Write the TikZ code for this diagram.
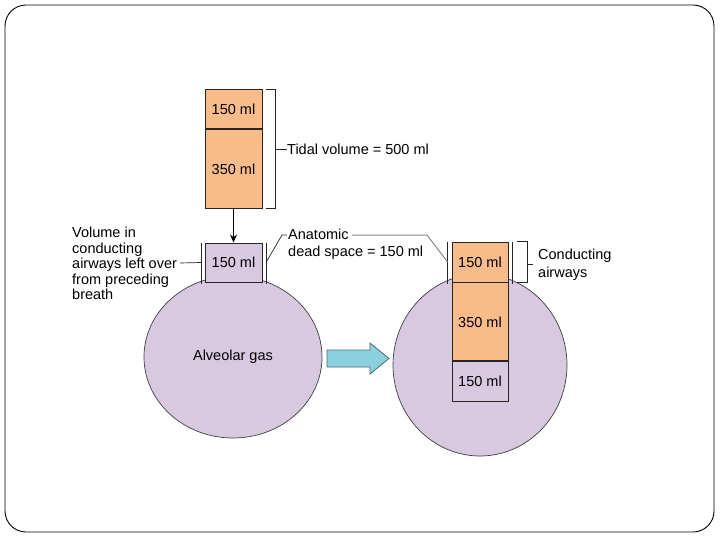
\documentclass[tikz,border=0pt]{standalone}
\usepackage{fontspec}
\setmainfont{Liberation Sans}
\usetikzlibrary{shapes.geometric, arrows.meta, positioning}
\definecolor{tvorange}{RGB}{248,188,138}
\definecolor{alvlilac}{RGB}{216,200,224}
\definecolor{flowblue}{RGB}{140,208,222}
\definecolor{flowedge}{RGB}{70,110,120}
\definecolor{leadgray}{RGB}{135,135,135}
\tikzset{
  %% ---- boxes ----
  volbox/.style  = {rectangle, draw=black!85, line width=0.9pt,
                    fill=#1, minimum width=57pt, inner sep=0pt,
                    font=\fontsize{14.5}{16}\selectfont},
  volbox/.default = tvorange,
  lung/.style    = {ellipse, draw=black!75, line width=0.7pt,
                    fill=alvlilac, inner sep=0pt,
                    font=\fontsize{14.5}{16}\selectfont},
  lbl/.style     = {align=left, inner sep=0pt,
                    font=\fontsize{14.5}{#1}\selectfont},
  lbl/.default   = 16.5,
  %% ---- lines ----
  leader/.style  = {line width=0.7pt, color=black!85},
  grayleader/.style = {line width=1pt, color=leadgray},
  wall/.style    = {line width=0.6pt, color=black!85},
  pointer/.style = {-{Stealth[length=8pt, width=7pt]}, line width=1.3pt},
  flow/.style    = {draw=flowedge, line width=0.8pt, fill=flowblue},
}
\begin{document}
\begin{tikzpicture}[x=1pt, y=-1pt]
  \useasboundingbox (0,0) rectangle (720,540);
  \draw[line width=0.9pt, rounded corners=21pt] (5,5) rectangle (714,532);

  %% alveoli
  \node[lung, minimum width=178pt, minimum height=162pt] (lung1) at (233,357) {Alveolar gas};
  \node[lung, minimum width=174pt, minimum height=182pt] (lung2) at (480,365) {};

  %% inspired tidal volume
  \node[volbox, minimum height=39pt] (tv150) at (233.5,109) {150 ml};
  \node[volbox, minimum height=79pt, below=0pt of tv150] (tv350) {350 ml};

  %% dead space before the breath
  \node[volbox=alvlilac, minimum height=39pt] (ds150) at (233.5,262.5) {150 ml};
  \draw[pointer] (tv350.south) -- (ds150.north);
  \draw[wall] ([xshift=-3.5pt]ds150.north west) -- ([xshift=-3.5pt, yshift=-2pt]ds150.south west);
  \draw[wall] ([xshift=3.5pt]ds150.north east) -- ([xshift=3.5pt, yshift=-2pt]ds150.south east);

  %% after the breath
  \node[volbox, minimum width=56pt, minimum height=40pt] (r150) at (480,262) {150 ml};
  \node[volbox, minimum width=56pt, minimum height=78pt, below=0pt of r150] (r350) {350 ml};
  \node[volbox=alvlilac, minimum width=56pt, minimum height=40pt, below=0pt of r350] (rb150) {150 ml};
  \draw[wall] ([xshift=-4pt]r150.north west) -- ([xshift=-4pt, yshift=-2pt]r150.south west);
  \draw[wall] ([xshift=4pt]r150.north east) -- ([xshift=4pt, yshift=-2pt]r150.south east);

  \draw[flow] (327,350) -- (370,350) -- (370,343) -- (389,358.5)
              -- (370,374) -- (370,367) -- (327,367) -- cycle;

  %% labels
  \node[lbl, anchor=west] (tvlbl) at (287,149) {Tidal volume = 500 ml};
  \node[lbl=15.5, anchor=north west] (leftlbl) at (72,227)
    {Volume in\\conducting\\airways left over\\from preceding\\breath};
  \node[lbl=17, anchor=north west] (dslbl) at (288,228.5)
    {Anatomic\\dead space = 150 ml};
  \node[lbl=18, anchor=north west] (cdlbl) at (538,248.5)
    {Conducting\\airways};

  %% brackets
  \coordinate (tvb) at ([xshift=13pt]tv350.south east);
  \draw[leader] ([xshift=4pt]tv150.north east) -| (tvb) -- ([xshift=4pt]tv350.south east);
  \draw[leader] (tvb |- tvlbl.west) -- (tvlbl.west);

  \coordinate (cdb) at ([xshift=19pt]r150.south east);
  \draw[leader] ([xshift=9pt]r150.north east) -| (cdb) -- ([xshift=9pt]r150.south east);
  \draw[leader] (cdb |- cdlbl.west) -- ([xshift=-5pt]cdlbl.west);

  %% leader lines
  \coordinate (lvend) at (180,263);
  \draw[leader] (lvend) -- ([xshift=-3.5pt]ds150.west);
  \coordinate (dsk) at (282,235);
  \draw[leader] ([xshift=3.5pt]ds150.east) -- (dsk) -- (287,235);
  \coordinate (anend) at (352,235);
  \coordinate (ank) at (427,235);
  \draw[grayleader] (anend) -- (ank) -- ([xshift=-4pt]r150.west);
\end{tikzpicture}
\end{document}
